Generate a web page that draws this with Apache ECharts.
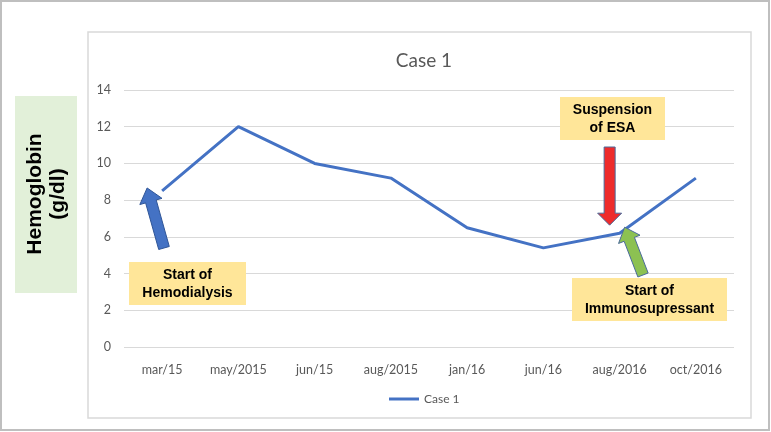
<!DOCTYPE html>
<html>
<head>
<meta charset="utf-8">
<script src="https://cdn.jsdelivr.net/npm/echarts@6/dist/echarts.min.js"></script>
<style>
  html, body { margin: 0; padding: 0; background: #fff; }
  #chart { width: 771px; height: 432px; }
</style>
</head>
<body>
<div id="chart"></div>
<script>
// data
const categories = ['mar/15', 'may/2015', 'jun/15', 'aug/2015', 'jan/16', 'jun/16', 'aug/2016', 'oct/2016'];
const hemoglobin = [8.5, 12, 10, 9.2, 6.5, 5.4, 6.2, 9.2];
const yTicks = { min: 0, max: 14, interval: 2 };

const mychart = echarts.init(document.getElementById('chart'));

// block arrow polygon from tail to tip
function arrowPoints(tail, tip, shaftW, headW, headL) {
  const dx = tip[0] - tail[0], dy = tip[1] - tail[1];
  const len = Math.sqrt(dx * dx + dy * dy);
  const ux = dx / len, uy = dy / len;
  const px = -uy, py = ux;
  const bx = tip[0] - ux * headL, by = tip[1] - uy * headL;
  return [
    [tail[0] + px * shaftW / 2, tail[1] + py * shaftW / 2],
    [bx + px * shaftW / 2, by + py * shaftW / 2],
    [bx + px * headW / 2, by + py * headW / 2],
    tip,
    [bx - px * headW / 2, by - py * headW / 2],
    [bx - px * shaftW / 2, by - py * shaftW / 2],
    [tail[0] - px * shaftW / 2, tail[1] - py * shaftW / 2]
  ];
}

function noteBox(x, y, w, h, text) {
  return {
    type: 'group', x: x, y: y, z: 10,
    children: [
      { type: 'rect', shape: { x: 0, y: 0, width: w, height: h }, style: { fill: '#FFE699' } },
      { type: 'text', x: w / 2, y: h / 2 + 1,
        style: { text: text, fill: '#000', font: 'bold 14px "Liberation Sans", Arial', align: 'center', verticalAlign: 'middle', lineHeight: 18 } }
    ]
  };
}

const option = {
  animation: false,
  title: {
    text: 'Case 1',
    left: 419, top: 46, textAlign: 'center',
    textStyle: { fontFamily: 'Lato', fontWeight: 'normal', fontSize: 19, color: '#595959' }
  },
  legend: {
    left: 384, top: 388,
    itemWidth: 30, itemHeight: 3, itemGap: 4,
    icon: 'rect',
    textStyle: { fontFamily: 'Lato', fontSize: 12, color: '#595959' },
    data: ['Case 1']
  },
  grid: { left: 124, right: 37, top: 90, bottom: 85 },
  xAxis: {
    type: 'category',
    data: categories,
    axisLine: { show: false },
    axisTick: { show: false },
    axisLabel: { fontFamily: 'Lato', fontSize: 12.5, color: '#595959', margin: 16 }
  },
  yAxis: {
    type: 'value',
    min: yTicks.min, max: yTicks.max, interval: yTicks.interval,
    axisLabel: { fontFamily: 'Lato', fontSize: 12.5, color: '#595959', margin: 13 },
    splitLine: { lineStyle: { color: '#D9D9D9', width: 1 } }
  },
  series: [{
    name: 'Case 1',
    type: 'line',
    data: hemoglobin,
    symbol: 'none',
    lineStyle: { color: '#4472C4', width: 3 },
    itemStyle: { color: '#4472C4' }
  }]
};
mychart.setOption(option);

// annotations placed relative to the data points
const p0 = mychart.convertToPixel({ seriesIndex: 0 }, [0, hemoglobin[0]]);
const p6 = mychart.convertToPixel({ seriesIndex: 0 }, [6, hemoglobin[6]]);

mychart.setOption({
  graphic: [
    { type: 'rect', shape: { x: 1, y: 1, width: 768, height: 429 }, style: { fill: 'none', stroke: '#BFBFBF', lineWidth: 2 }, z: -1 },
    { type: 'rect', shape: { x: 88, y: 32, width: 663, height: 386 }, style: { fill: 'none', stroke: '#D9D9D9', lineWidth: 1.5 }, z: -1 },
    {
      type: 'group', x: 15, y: 96,
      children: [
        { type: 'rect', shape: { x: 0, y: 0, width: 62, height: 197 }, style: { fill: '#E2F0D9' } },
        { type: 'text', x: 32, y: 98, rotation: Math.PI / 2,
          style: { text: 'Hemoglobin\n(g/dl)', fill: '#000', font: 'bold 21px "Liberation Sans", Arial', align: 'center', verticalAlign: 'middle', lineHeight: 23 } }
      ]
    },
    noteBox(129, 262, 117, 43, 'Start of\nHemodialysis'),
    noteBox(560, 97, 105, 43, 'Suspension\nof ESA'),
    noteBox(572, 278, 155, 43, 'Start of\nImmunosupressant'),
    { type: 'polygon', z: 9, shape: { points: arrowPoints([164, 248], [p0[0] - 15, p0[1] - 3], 11, 23, 14) },
      style: { fill: '#4472C4', stroke: '#2F5597', lineWidth: 1 } },
    { type: 'polygon', z: 9, shape: { points: arrowPoints([p6[0] - 10, 147], [p6[0] - 10, p6[1] - 8], 11, 24, 12) },
      style: { fill: '#EE2B2B', stroke: '#4A6A9A', lineWidth: 1 } },
    { type: 'polygon', z: 9, shape: { points: arrowPoints([643, 275], [p6[0] + 5, p6[1] - 6], 11, 23, 13) },
      style: { fill: '#8CC152', stroke: '#4A6A9A', lineWidth: 1 } }
  ]
});
</script>
</body>
</html>
